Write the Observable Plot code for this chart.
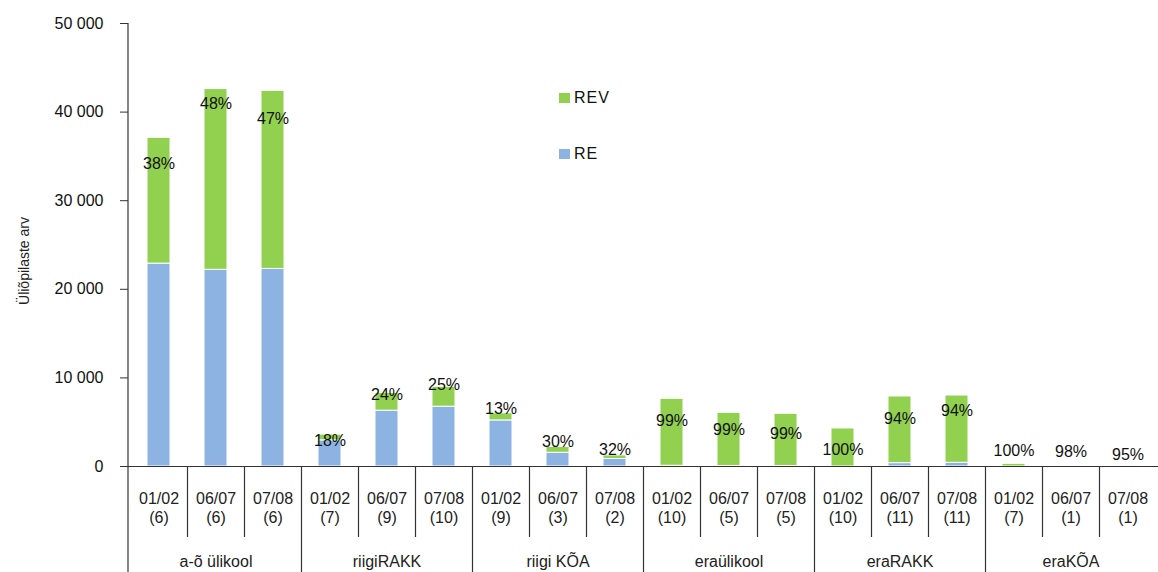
<!DOCTYPE html>
<html>
<head>
<meta charset="utf-8">
<script src="https://cdn.jsdelivr.net/npm/d3@7"></script>
<script src="https://cdn.jsdelivr.net/npm/@observablehq/plot@0.6"></script>
<style>
  html, body { margin: 0; padding: 0; background: #fff; }
  #wrap { position: relative; width: 1158px; height: 572px; overflow: hidden; font-family: "Liberation Sans", Arial, sans-serif; }
  .legend { position: absolute; left: 559px; font-size: 16px; letter-spacing: 1px; color: #111; display: flex; align-items: center; }
  .legend .sw { width: 11px; height: 10px; margin-right: 4px; }
</style>
</head>
<body>
<div id="wrap"></div>
<script>
// ---- data ----
const groups = ["a-õ ülikool", "riigiRAKK", "riigi KÕA", "eraülikool", "eraRAKK", "eraKÕA"];
const years = ["01/02", "06/07", "07/08"];
const schoolCounts = [6, 6, 6, 7, 9, 10, 9, 3, 2, 10, 5, 5, 10, 11, 11, 7, 1, 1];
const reValues  = [22900, 22200, 22300, 2950, 6300, 6750, 5200, 1550, 850, 80, 60, 60, 0, 380, 420, 0, 1, 2];
const revValues = [14200, 20400, 20100, 650, 2000, 2250, 800, 650, 400, 7560, 6000, 5890, 4290, 7520, 7590, 300, 49, 38];
const pctLabels = ["38%", "48%", "47%", "18%", "24%", "25%", "13%", "30%", "32%", "99%", "99%", "99%", "100%", "94%", "94%", "100%", "98%", "95%"];
const pctLabelAt = [34200, 40970, 39280, 2900, 8130, 9250, 6550, 2740, 1920, 5110, 4180, 3720, 1880, 5380, 6320, 1800, 1610, 1320];
const yTicks = [0, 10000, 20000, 30000, 40000, 50000];
const seriesNames = ["RE", "REV"];
const seriesColors = ["#8DB3E2", "#92D050"];
const yTitle = "Üliõpilaste arv";

// ---- derived tables ----
const cats = [];
groups.forEach((g, gi) => years.forEach((yr, yi) => {
  const i = gi * 3 + yi;
  cats.push({key: g + " " + yr, group: g, gi, yi, year: yr, n: schoolCounts[i],
             re: reValues[i], rev: revValues[i], pct: pctLabels[i], at: pctLabelAt[i]});
}));
const rows = [];
cats.forEach(c => {
  rows.push({key: c.key, series: "RE", value: c.re});
  rows.push({key: c.key, series: "REV", value: c.rev});
});
const fmt = d => d3.format(",")(d).replace(/,/g, " ");
const lineColor = "#333333";

const plot = Plot.plot({
  width: 1158,
  height: 572,
  marginLeft: 128,
  marginRight: 0,
  marginTop: 23,
  marginBottom: 106,
  style: {fontFamily: "'Liberation Sans', Arial, sans-serif", fontSize: "16px", color: "#111", overflow: "visible"},
  x: {domain: cats.map(c => c.key), padding: 0, axis: null},
  y: {domain: [0, 50000], axis: null},
  color: {domain: seriesNames, range: seriesColors},
  marks: [
    Plot.barY(rows, {x: "key", y: "value", fill: "series", order: seriesNames,
                     insetLeft: 17, insetRight: 17, stroke: "white", strokeWidth: 1}),
    Plot.ruleY([0], {stroke: lineColor, strokeWidth: 1.2}),
    Plot.axisY({ticks: yTicks, tickFormat: fmt, tickSize: 8, tickPadding: 17,
                fontSize: 16, stroke: lineColor, label: null, style: {letterSpacing: "1.2px"}}),
    Plot.text(cats, {x: "key", y: "at", text: "pct", fontSize: 16, fill: "#111",
                     style: {letterSpacing: "1.2px"}}),
    Plot.text(cats, {x: "key", text: c => c.year + "\n(" + c.n + ")", frameAnchor: "bottom",
                     lineAnchor: "top", dy: 24, lineHeight: 1.2, fontSize: 16, fill: "#222",
                     style: {letterSpacing: "1.2px"}}),
    Plot.text(cats.filter(c => c.yi === 1), {x: "key", text: "group", frameAnchor: "bottom",
                     lineAnchor: "bottom", dy: 100, fontSize: 16, fill: "#222",
                     style: {letterSpacing: "1px"}}),
    Plot.text([yTitle], {frameAnchor: "left", textAnchor: "middle", dx: -104, dy: 16, rotate: -90,
                         fontSize: 14, fill: "#222"})
  ]
});

// separators drawn from the plot's own x scale
const xs = plot.scale("x");
const svg = d3.select(plot);
const g = svg.append("g").attr("stroke", lineColor).attr("stroke-width", 1.2);
cats.forEach((c, i) => {
  if (i === 0) return;
  const x = Math.round(xs.apply(c.key)) + 0.5;
  g.append("line").attr("x1", x).attr("x2", x).attr("y1", 466).attr("y2", c.yi === 0 ? 580 : 537);
});
// y axis line
const x0 = xs.range[0];
g.append("line").attr("x1", x0).attr("x2", x0).attr("y1", 23).attr("y2", 580);

const wrap = document.getElementById("wrap");
wrap.appendChild(plot);

// legend
[["REV", 1, 98], ["RE", 0, 154]].forEach(([name, ci, cy]) => {
  const d = document.createElement("div");
  d.className = "legend";
  d.style.top = (cy - 10) + "px";
  d.style.height = "20px";
  d.innerHTML = `<span class="sw" style="background:${seriesColors[ci]}"></span><span>${name}</span>`;
  wrap.appendChild(d);
});
</script>
</body>
</html>
